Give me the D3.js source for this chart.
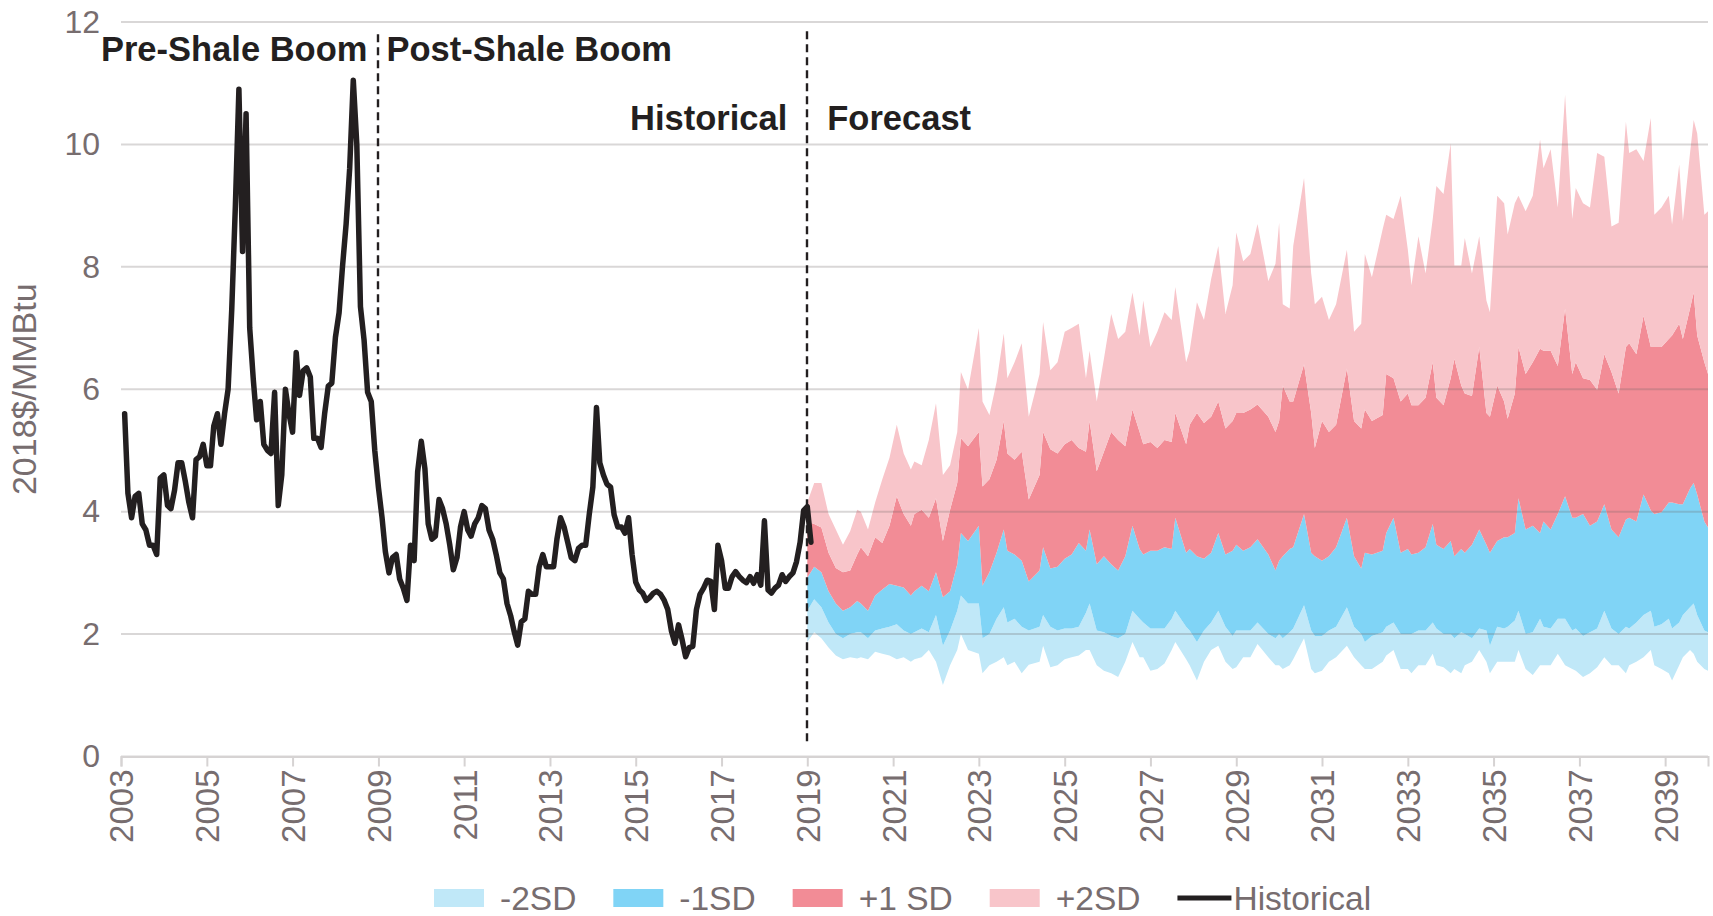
<!DOCTYPE html>
<html>
<head>
<meta charset="utf-8">
<script src="https://cdn.jsdelivr.net/npm/d3@7"></script>
<style>
  body { margin: 0; background: #fff; }
  text { font-family: Arial, "Liberation Sans", sans-serif; }
</style>
</head>
<body>
<div id="plot"></div>
<script>
// historical monthly price, starting Feb 2003
var histStart = "2003-02";
var histValues = [
  5.6, 4.3, 3.9, 4.25, 4.3, 3.8, 3.7, 3.45, 3.45, 3.3, 4.55,
  4.6, 4.1, 4.05, 4.35, 4.8, 4.8, 4.5, 4.15, 3.9, 4.85, 4.9, 5.1,
  4.75, 4.75, 5.4, 5.6, 5.1, 5.6, 6.0, 7.3, 9.0, 10.9, 8.25, 10.5,
  7.0, 6.15, 5.5, 5.8, 5.1, 5.0, 4.95, 5.95, 4.1, 4.6, 6.0, 5.6,
  5.3, 6.6, 5.9, 6.3, 6.35, 6.2, 5.2, 5.2, 5.05, 5.6, 6.05, 6.1,
  6.85, 7.25, 8.0, 8.7, 9.6, 11.05, 10.0, 7.35, 6.8, 5.95, 5.8, 5.0,
  4.4, 3.9, 3.35, 3.0, 3.25, 3.3, 2.9, 2.75, 2.55, 3.45, 3.2, 4.65,
  5.15, 4.7, 3.8, 3.55, 3.6, 4.2, 4.05, 3.8, 3.45, 3.05, 3.25, 3.75,
  4.0, 3.7, 3.6, 3.8, 3.9, 4.1, 4.05, 3.7, 3.55, 3.3, 3.0, 2.9,
  2.5, 2.3, 2.05, 1.82, 2.2, 2.25, 2.7, 2.65, 2.65, 3.1, 3.3, 3.1,
  3.1, 3.1, 3.55, 3.9, 3.75, 3.5, 3.25, 3.2, 3.4, 3.45, 3.45, 3.95,
  4.4, 5.7, 4.8, 4.6, 4.45, 4.4, 3.95, 3.75, 3.75, 3.65, 3.9, 3.3,
  2.85, 2.72, 2.67, 2.55, 2.6, 2.67, 2.7, 2.65, 2.55, 2.4, 2.05, 1.85,
  2.15, 1.9, 1.63, 1.78, 1.8, 2.4, 2.65, 2.75, 2.88, 2.86, 2.4, 3.45,
  3.2, 2.75, 2.75, 2.94, 3.02, 2.94, 2.88, 2.84, 2.94, 2.83, 2.97, 2.8,
  3.85, 2.72, 2.67, 2.75, 2.8, 2.97, 2.86, 2.94, 3.0, 3.18, 3.5, 4.02,
  4.08, 3.5
];

// forecast band edges
var forecastDates = [
  "2019-01","2019-03","2019-05","2019-07","2019-09","2019-11","2020-01","2020-03","2020-04","2020-06",
  "2020-08","2020-10","2020-12","2021-02","2021-04","2021-06","2021-07","2021-09","2021-11","2022-01",
  "2022-03","2022-05","2022-07","2022-08","2022-10","2023-01","2023-02","2023-04","2023-06","2023-08",
  "2023-09","2023-11","2024-01","2024-03","2024-06","2024-07","2024-09","2024-11","2025-01","2025-03",
  "2025-05","2025-07","2025-08","2025-10","2025-12","2026-02","2026-04","2026-06","2026-08","2026-10",
  "2026-11","2027-01","2027-03","2027-05","2027-07","2027-08","2027-11","2027-12","2028-02","2028-04",
  "2028-06","2028-08","2028-10","2028-12","2029-01","2029-03","2029-05","2029-07","2029-10","2029-12",
  "2030-01","2030-02","2030-04","2030-05","2030-08","2030-10","2030-11","2031-01","2031-03","2031-05",
  "2031-08","2031-10","2031-12","2032-01","2032-03","2032-06","2032-07","2032-09","2032-11","2033-01",
  "2033-02","2033-04","2033-06","2033-08","2033-09","2033-11","2034-01","2034-02","2034-04","2034-05",
  "2034-07","2034-09","2034-11","2034-12","2035-02","2035-04","2035-05","2035-07","2035-08","2035-10",
  "2035-12","2036-02","2036-03","2036-05","2036-07","2036-09","2036-11","2036-12","2037-02","2037-04",
  "2037-06","2037-08","2037-10","2037-12","2038-02","2038-03","2038-05","2038-07","2038-09","2038-10",
  "2038-12","2039-02","2039-03","2039-05","2039-06","2039-08","2039-09","2039-10","2039-12","2040-01"
];
var plus2SD = [
  4.15, 4.47, 4.47, 3.96, 3.71, 3.46, 3.68, 4.03, 4.0, 3.71,
  4.15, 4.53, 4.88, 5.42, 4.95, 4.69, 4.82, 4.76, 5.17, 5.77,
  4.6, 4.76, 5.3, 6.28, 5.99, 7.0, 5.8, 5.58, 6.12, 6.91,
  6.18, 6.44, 6.75, 5.55, 6.25, 7.1, 6.31, 6.44, 6.94, 7.0,
  7.07, 6.18, 6.63, 5.8, 6.5, 7.23, 6.82, 6.94, 7.58, 6.88,
  7.45, 6.69, 6.94, 7.26, 7.13, 7.67, 6.44, 6.63, 7.42, 7.13,
  7.8, 8.34, 7.23, 7.7, 8.56, 8.09, 8.21, 8.7, 7.77, 8.05,
  8.72, 7.39, 7.32, 8.34, 9.45, 7.89, 7.39, 7.51, 7.13, 7.39,
  8.28, 6.94, 7.07, 8.21, 7.83, 8.62, 8.85, 8.78, 9.16, 8.28,
  7.7, 8.5, 7.89, 8.78, 9.32, 9.19, 10.02, 8.02, 8.02, 8.47,
  7.89, 8.5, 7.45, 7.26, 9.16, 9.04, 8.53, 9.04, 9.16, 8.91,
  9.16, 10.08, 9.61, 9.92, 8.97, 10.81, 8.78, 9.29, 9.04, 8.97,
  9.86, 9.8, 8.66, 8.72, 10.37, 9.86, 9.92, 9.73, 10.43, 8.85,
  8.97, 9.16, 8.69, 9.67, 8.75, 9.86, 10.4, 10.18, 8.85, 8.91
];
var plus1SD = [
  3.84, 3.8, 3.74, 3.33, 3.08, 3.01, 3.04, 3.3, 3.42, 3.27,
  3.58, 3.49, 3.77, 4.25, 3.96, 3.77, 3.96, 4.03, 3.9, 4.22,
  3.52, 4.03, 4.47, 5.2, 5.07, 5.3, 4.41, 4.53, 4.85, 5.48,
  4.95, 4.85, 4.98, 4.2, 4.6, 5.3, 5.02, 4.95, 5.1, 5.17,
  5.04, 4.98, 5.48, 4.66, 4.98, 5.3, 5.17, 5.07, 5.67, 5.3,
  5.1, 5.14, 5.04, 5.17, 5.14, 5.61, 5.1, 5.42, 5.61, 5.45,
  5.55, 5.8, 5.36, 5.48, 5.61, 5.61, 5.67, 5.75, 5.55, 5.3,
  5.48, 6.06, 5.8, 5.8, 6.41, 5.61, 5.04, 5.48, 5.3, 5.42,
  6.34, 5.48, 5.36, 5.67, 5.48, 5.58, 6.25, 6.18, 5.8, 5.93,
  5.74, 5.74, 5.86, 6.44, 5.86, 5.74, 6.18, 6.5, 6.06, 5.93,
  5.89, 6.69, 5.61, 5.55, 6.06, 5.8, 5.52, 5.93, 6.69, 6.25,
  6.44, 6.66, 6.63, 6.63, 6.38, 7.32, 6.25, 6.44, 6.18, 6.15,
  5.99, 6.57, 6.28, 5.93, 6.69, 6.75, 6.57, 7.2, 6.69, 6.69,
  6.69, 6.82, 6.88, 7.07, 6.82, 7.32, 7.58, 6.88, 6.44, 6.25
];
var centre = [
  2.92, 3.1, 3.01, 2.7, 2.5, 2.38, 2.44, 2.54, 2.5, 2.38,
  2.63, 2.73, 2.82, 2.79, 2.76, 2.63, 2.7, 2.79, 2.7, 3.01,
  2.6, 2.7, 3.14, 3.65, 3.52, 3.77, 2.79, 3.01, 3.33, 3.71,
  3.36, 3.3, 3.2, 2.86, 3.04, 3.42, 3.07, 3.1, 3.23, 3.3,
  3.49, 3.36, 3.71, 3.14, 3.27, 3.14, 3.04, 3.27, 3.77, 3.39,
  3.3, 3.36, 3.36, 3.42, 3.39, 3.9, 3.33, 3.39, 3.27, 3.23,
  3.33, 3.65, 3.3, 3.36, 3.46, 3.36, 3.42, 3.55, 3.3, 3.04,
  3.2, 3.27, 3.39, 3.42, 3.96, 3.33, 3.27, 3.2, 3.27, 3.42,
  3.9, 3.27, 3.07, 3.33, 3.3, 3.36, 3.65, 3.9, 3.33, 3.39,
  3.3, 3.33, 3.42, 3.8, 3.46, 3.39, 3.52, 3.27, 3.39, 3.33,
  3.46, 3.71, 3.46, 3.33, 3.52, 3.58, 3.58, 3.65, 4.22, 3.71,
  3.77, 3.65, 3.84, 3.71, 3.96, 4.25, 3.9, 3.9, 3.96, 3.77,
  3.84, 4.12, 3.71, 3.58, 3.87, 3.9, 3.84, 4.28, 4.02, 3.96,
  3.99, 4.15, 4.15, 4.12, 4.12, 4.38, 4.47, 4.28, 3.84, 3.74
];
var minus1SD = [
  2.38, 2.57, 2.44, 2.19, 2.0, 1.93, 2.0, 2.03, 2.03, 1.93,
  2.06, 2.09, 2.12, 2.16, 2.06, 2.0, 2.03, 2.09, 2.03, 2.31,
  1.81, 2.06, 2.38, 2.63, 2.5, 2.5, 1.93, 2.0, 2.25, 2.44,
  2.19, 2.25, 2.12, 2.06, 2.12, 2.31, 2.12, 2.06, 2.09, 2.09,
  2.12, 2.35, 2.5, 2.06, 2.03, 1.97, 1.93, 2.0, 2.38, 2.25,
  2.19, 2.09, 2.09, 2.09, 2.25, 2.38, 2.12, 2.06, 1.87, 2.06,
  2.19, 2.38, 2.12, 1.97, 2.06, 2.06, 2.06, 2.19, 2.0, 1.93,
  2.0, 1.93, 2.03, 2.09, 2.47, 2.06, 1.97, 1.97, 2.06, 2.12,
  2.44, 2.12, 2.0, 1.87, 1.97, 2.03, 2.12, 2.19, 2.0, 2.0,
  2.0, 2.06, 2.06, 2.19, 2.09, 2.0, 2.0, 1.93, 2.03, 2.0,
  1.93, 2.09, 2.06, 1.81, 2.12, 2.09, 2.12, 2.22, 2.38, 2.0,
  2.03, 2.25, 2.12, 2.09, 2.25, 2.25, 2.06, 2.09, 1.97, 2.03,
  2.09, 2.38, 2.09, 2.0, 2.12, 2.09, 2.19, 2.31, 2.38, 2.12,
  2.16, 2.25, 2.09, 2.19, 2.31, 2.44, 2.5, 2.31, 2.06, 2.03
];
var minus2SD = [
  1.87, 2.03, 1.93, 1.78, 1.65, 1.59, 1.62, 1.6, 1.62, 1.59,
  1.71, 1.68, 1.65, 1.59, 1.62, 1.55, 1.59, 1.62, 1.74, 1.55,
  1.17, 1.49, 1.74, 2.0, 1.74, 1.68, 1.36, 1.49, 1.55, 1.62,
  1.49, 1.55, 1.36, 1.5, 1.55, 1.81, 1.46, 1.49, 1.59, 1.62,
  1.65, 1.74, 1.74, 1.49, 1.4, 1.36, 1.3, 1.55, 1.87, 1.62,
  1.62, 1.4, 1.43, 1.52, 1.74, 1.87, 1.59, 1.49, 1.24, 1.55,
  1.74, 1.81, 1.55, 1.43, 1.46, 1.62, 1.62, 1.84, 1.62, 1.49,
  1.49, 1.43, 1.49, 1.59, 1.93, 1.43, 1.36, 1.4, 1.55, 1.62,
  1.81, 1.62, 1.49, 1.43, 1.43, 1.55, 1.65, 1.74, 1.43, 1.43,
  1.36, 1.49, 1.49, 1.68, 1.49, 1.46, 1.36, 1.43, 1.36, 1.49,
  1.55, 1.74, 1.55, 1.36, 1.55, 1.55, 1.55, 1.55, 1.74, 1.43,
  1.33, 1.49, 1.49, 1.49, 1.68, 1.49, 1.43, 1.4, 1.3, 1.36,
  1.46, 1.62, 1.49, 1.49, 1.36, 1.49, 1.55, 1.62, 1.74, 1.49,
  1.43, 1.36, 1.24, 1.49, 1.62, 1.74, 1.68, 1.55, 1.43, 1.4
];

var yTicks = [0, 2, 4, 6, 8, 10, 12];
var xTickYears = [2003, 2005, 2007, 2009, 2011, 2013, 2015, 2017, 2019, 2021, 2023, 2025, 2027, 2029, 2031, 2033, 2035, 2037, 2039];
var legendLabels = ["-2SD", "-1SD", "+1 SD", "+2SD", "Historical"];
var bandColors = ["#c0e8f8", "#80d4f6", "#f28c96", "#f8c5ca"];

var parseMonth = d3.timeParse("%Y-%m");

var width = 1713, height = 916;
var svg = d3.select("#plot").append("svg")
  .attr("width", width)
  .attr("height", height);

var x = d3.scaleTime()
  .domain([new Date(2003, 0, 1), new Date(2040, 0, 1)])
  .range([121, 1708]);

var y = d3.scaleLinear()
  .domain([0, 12])
  .range([756.5, 22]);

var textGrey = "#776d6f";

// forecast rows
var forecast = forecastDates.map(function(d, i) {
  return {
    date: parseMonth(d),
    m2: minus2SD[i], m1: minus1SD[i], c: centre[i], p1: plus1SD[i], p2: plus2SD[i]
  };
});

var bands = [
  { lo: "m2", hi: "m1", color: bandColors[0] },
  { lo: "m1", hi: "c",  color: bandColors[1] },
  { lo: "c",  hi: "p1", color: bandColors[2] },
  { lo: "p1", hi: "p2", color: bandColors[3] }
];

bands.forEach(function(b) {
  var area = d3.area()
    .x(function(d) { return x(d.date); })
    .y0(function(d) { return y(d[b.lo]); })
    .y1(function(d) { return y(d[b.hi]); });
  svg.append("path")
    .datum(forecast)
    .attr("d", area)
    .style("fill", b.color);
});

// grid lines on top of the bands
svg.selectAll("line.grid")
  .data(yTicks)
  .enter()
  .append("line")
  .attr("class", "grid")
  .attr("x1", x.range()[0])
  .attr("x2", x.range()[1])
  .attr("y1", function(d) { return y(d); })
  .attr("y2", function(d) { return y(d); })
  .style("stroke", "rgba(110,100,100,0.26)")
  .style("stroke-width", 2);

// y axis labels
var yAxis = svg.append("g")
  .attr("transform", "translate(" + x.range()[0] + ",0)")
  .call(d3.axisLeft(y).tickValues(yTicks).tickSize(0).tickPadding(21));
yAxis.select(".domain").remove();
yAxis.selectAll("text")
  .style("font-size", "32px")
  .style("fill", textGrey)
  .style("font-family", "Arial, 'Liberation Sans', sans-serif");

// x axis
var xAxis = svg.append("g")
  .attr("transform", "translate(0," + y(0) + ")")
  .call(d3.axisBottom(x)
    .tickValues(xTickYears.map(function(yr) { return new Date(yr, 0, 1); }))
    .tickFormat(d3.timeFormat("%Y"))
    .tickSize(10));
xAxis.select(".domain").style("stroke", "#d6d3d3").style("stroke-width", 2);
xAxis.selectAll(".tick line").style("stroke", "#d6d3d3").style("stroke-width", 2);
xAxis.selectAll("text")
  .attr("transform", "rotate(-90)")
  .attr("x", -13)
  .attr("y", 0)
  .attr("dy", "0.36em")
  .style("text-anchor", "end")
  .style("font-size", "33px")
  .style("fill", textGrey)
  .style("font-family", "Arial, 'Liberation Sans', sans-serif");

// y title
svg.append("text")
  .attr("transform", "translate(36," + ((y(0) + y(12)) / 2) + ") rotate(-90)")
  .style("text-anchor", "middle")
  .style("font-size", "34px")
  .style("fill", textGrey)
  .text("2018$/MMBtu");

// divider lines
var dividers = [
  { date: "2009-01", top: 11.8, bottom: 6.0 },
  { date: "2019-01", top: 11.85, bottom: 0.25 }
];
svg.selectAll("line.divider")
  .data(dividers)
  .enter()
  .append("line")
  .attr("class", "divider")
  .attr("x1", function(d) { return Math.round(x(parseMonth(d.date))); })
  .attr("x2", function(d) { return Math.round(x(parseMonth(d.date))); })
  .attr("y1", function(d) { return y(d.top); })
  .attr("y2", function(d) { return y(d.bottom); })
  .style("stroke", "#231f20")
  .style("stroke-width", 2.4)
  .style("stroke-dasharray", "8,5");

// historical line
var hist = histValues.map(function(v, i) {
  return { date: d3.timeMonth.offset(parseMonth(histStart), i), value: v };
});
var line = d3.line()
  .x(function(d) { return x(d.date); })
  .y(function(d) { return y(d.value); });
svg.append("path")
  .datum(hist)
  .attr("d", line)
  .style("fill", "none")
  .style("stroke", "#231f20")
  .style("stroke-width", 5.5)
  .style("stroke-linejoin", "round")
  .style("stroke-linecap", "round");

// period labels
var shaleX = x(parseMonth(dividers[0].date));
var fcX = x(parseMonth(dividers[1].date));
function boldLabel(px, py, anchor, txt) {
  svg.append("text")
    .attr("x", px)
    .attr("y", py)
    .style("text-anchor", anchor)
    .style("font-size", "34.5px")
    .style("font-weight", "bold")
    .style("fill", "#231f20")
    .text(txt);
}
boldLabel(shaleX - 11, 61, "end", "Pre-Shale Boom");
boldLabel(shaleX + 8, 61, "start", "Post-Shale Boom");
boldLabel(fcX - 20, 130, "end", "Historical");
boldLabel(fcX + 20, 130, "start", "Forecast");

// legend
var legend = svg.append("g").attr("class", "legend");
var lx = 434;
legendLabels.forEach(function(lab, i) {
  var g = legend.append("g");
  if (i < 4) {
    g.append("rect")
      .attr("x", lx)
      .attr("y", 889)
      .attr("width", 50)
      .attr("height", 18)
      .style("fill", bandColors[i]);
    lx += 50 + 16;
  } else {
    g.append("line")
      .attr("x1", lx)
      .attr("x2", lx + 54)
      .attr("y1", 898)
      .attr("y2", 898)
      .style("stroke", "#231f20")
      .style("stroke-width", 5);
    lx += 56;
  }
  var t = g.append("text")
    .attr("x", lx)
    .attr("y", 910)
    .style("font-size", "33.5px")
    .style("fill", textGrey)
    .text(lab);
  lx += t.node().getComputedTextLength() + 37;
});
</script>
</body>
</html>
